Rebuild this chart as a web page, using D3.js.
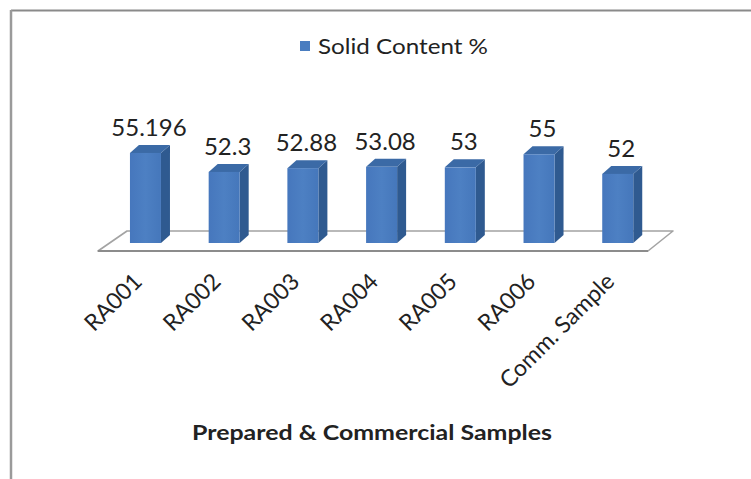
<!DOCTYPE html>
<html>
<head>
<meta charset="utf-8">
<script src="https://cdn.jsdelivr.net/npm/d3@7"></script>
<style>
  html, body { margin: 0; padding: 0; background: #fff; }
  svg { display: block; }
  text { font-family: Lato, "Open Sans", sans-serif; fill: #222; }
</style>
</head>
<body>
<div id="chart"></div>
<script>
// Solid content of the prepared samples and a commercial reference sample
const categories = ["RA001", "RA002", "RA003", "RA004", "RA005", "RA006", "Comm. Sample"];
const solidContent = [55.196, 52.3, 52.88, 53.08, 53, 55, 52];
const valueLabels = ["55.196", "52.3", "52.88", "53.08", "53", "55", "52"];
const seriesName = "Solid Content %";
const axisTitle = "Prepared & Commercial Samples";

const W = 751, H = 479;
const svg = d3.select("#chart").append("svg")
  .attr("width", W).attr("height", H);

// outer frame (only top and left edges fall inside the view)
svg.append("line").attr("x1", 11).attr("y1", 10.5).attr("x2", W).attr("y2", 10.5)
  .attr("stroke", "#8a8a8a").attr("stroke-width", 2);
svg.append("line").attr("x1", 11).attr("y1", 10).attr("x2", 11).attr("y2", H)
  .attr("stroke", "#9a9a9a").attr("stroke-width", 2.5);

// scales
const x = d3.scaleBand()
  .domain(categories)
  .range([90.6, 672.6])
  .paddingInner(0.606)
  .paddingOuter(0.5);

const baseY = 243;
const y = d3.scaleLinear().domain([41.45, 56]).range([baseY, baseY - 95.3]);

// 3-D depth offsets
const dx = 9, dy = -8;

// floor of the 3-D plot
const floorFront = 251, floorBack = 231;
const floor = [[98, floorFront], [648, floorFront], [673, floorBack], [127, floorBack]];
svg.append("polygon")
  .attr("points", floor.map(p => p.join(",")).join(" "))
  .attr("fill", "#fff")
  .attr("stroke", "#a3a3a3")
  .attr("stroke-width", 1.6)
  .attr("stroke-linejoin", "round");
svg.append("line")
  .attr("x1", 98).attr("y1", floorFront).attr("x2", 648).attr("y2", floorFront)
  .attr("stroke", "#8c8c8c").attr("stroke-width", 2);

// gradients for the faces
const defs = svg.append("defs");
const gFront = defs.append("linearGradient").attr("id", "gFront")
  .attr("x1", 0).attr("x2", 1).attr("y1", 0).attr("y2", 0);
gFront.append("stop").attr("offset", 0).attr("stop-color", "#4677bd");
gFront.append("stop").attr("offset", 0.5).attr("stop-color", "#4d80c3");
gFront.append("stop").attr("offset", 1).attr("stop-color", "#4577bb");

const bars = svg.append("g").selectAll("g.bar")
  .data(categories.map((c, i) => ({ c, v: solidContent[i], label: valueLabels[i] })))
  .join("g").attr("class", "bar");

bars.each(function (d) {
  const g = d3.select(this);
  const x0 = x(d.c), x1 = x0 + x.bandwidth();
  const yt = y(d.v), yb = y.range()[0];
  // side face
  g.append("polygon")
    .attr("points", [[x1, yb], [x1 + dx, yb + dy], [x1 + dx, yt + dy], [x1, yt]].map(p => p.join(",")).join(" "))
    .attr("fill", "#2f5a90");
  // top face
  g.append("polygon")
    .attr("points", [[x0, yt], [x1, yt], [x1 + dx, yt + dy], [x0 + dx, yt + dy]].map(p => p.join(",")).join(" "))
    .attr("fill", "#3b6aa6");
  // front face
  g.append("rect")
    .attr("x", x0).attr("y", yt)
    .attr("width", x.bandwidth()).attr("height", yb - yt)
    .attr("fill", "url(#gFront)");
  // value label
  g.append("text")
    .attr("x", (x0 + x1 + dx) / 2 - 1)
    .attr("y", yt + dy - 9)
    .attr("text-anchor", "middle")
    .attr("font-size", 24)
    .text(d.label);
});

// category labels, rotated
svg.append("g").selectAll("text")
  .data(categories)
  .join("text")
  .attr("text-anchor", "end")
  .attr("font-size", 23)
  .attr("transform", d => `translate(${x(d) + x.bandwidth() / 2 - 2},${283}) rotate(-45)`)
  .text(d => d);

// legend
const legend = svg.append("g");
legend.append("rect")
  .attr("x", 300).attr("y", 41).attr("width", 10).attr("height", 10)
  .attr("fill", "#4a7dc0");
legend.append("text")
  .attr("x", 318).attr("y", 54)
  .attr("font-size", 22)
  .attr("textLength", 170)
  .attr("lengthAdjust", "spacingAndGlyphs")
  .text(seriesName);

// horizontal axis title
svg.append("text")
  .attr("x", 192).attr("y", 440)
  .attr("font-size", 21)
  .attr("font-weight", "bold")
  .attr("textLength", 360)
  .attr("lengthAdjust", "spacingAndGlyphs")
  .text(axisTitle);
</script>
</body>
</html>
